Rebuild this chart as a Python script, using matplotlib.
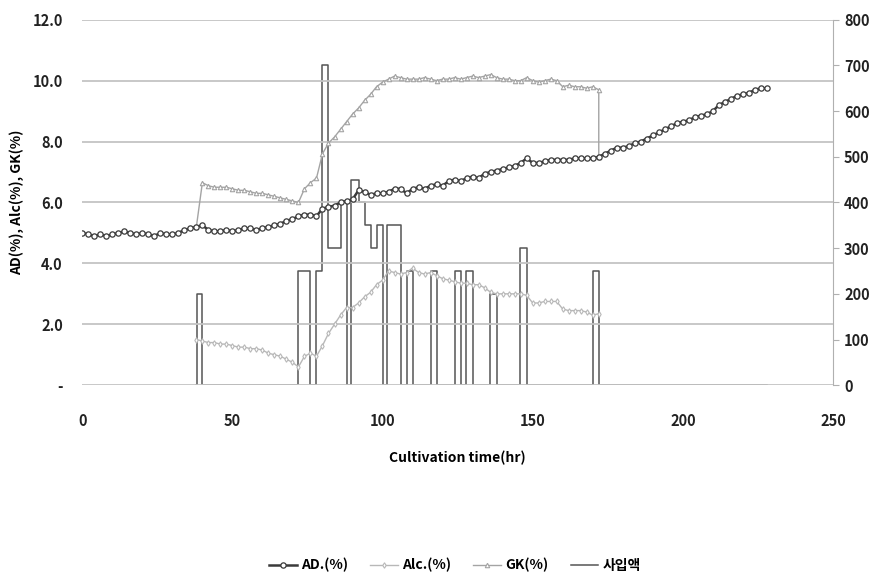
import numpy as np
import matplotlib
matplotlib.use("Agg")
import matplotlib.pyplot as plt

plt.rcParams["font.family"] = ["Noto Sans CJK KR", "DejaVu Sans"]

# AD (%) sampled every 2 hr, 0..228
ad_t = np.arange(0, 229, 2)
ad_v = [5.0, 4.95, 4.9, 4.95, 4.9, 4.95, 5.0, 5.05, 5.0, 4.95,
        5.0, 4.95, 4.9, 5.0, 4.95, 4.95, 5.0, 5.1, 5.15, 5.2,
        5.25, 5.1, 5.05, 5.05, 5.1, 5.05, 5.1, 5.15, 5.15, 5.1,
        5.15, 5.2, 5.25, 5.3, 5.4, 5.45, 5.55, 5.6, 5.6, 5.55,
        5.8, 5.85, 5.9, 6.0, 6.05, 6.1, 6.4, 6.35, 6.25, 6.3,
        6.3, 6.35, 6.45, 6.45, 6.3, 6.45, 6.5, 6.45, 6.55, 6.6,
        6.55, 6.7, 6.75, 6.7, 6.8, 6.85, 6.8, 6.95, 7.0, 7.05,
        7.1, 7.15, 7.2, 7.3, 7.45, 7.3, 7.3, 7.35, 7.4, 7.4,
        7.4, 7.4, 7.45, 7.45, 7.45, 7.45, 7.5, 7.6, 7.7, 7.8,
        7.8, 7.85, 7.95, 8.0, 8.1, 8.2, 8.3, 8.4, 8.5, 8.6,
        8.65, 8.7, 8.8, 8.85, 8.9, 9.0, 9.2, 9.3, 9.4, 9.5,
        9.55, 9.6, 9.7, 9.75, 9.75]

# Alc (%) every 2 hr, 38..172
alc_t = np.arange(38, 173, 2)
alc_v = [1.5, 1.45, 1.4, 1.4, 1.35, 1.35, 1.3, 1.25, 1.25, 1.2,
         1.2, 1.15, 1.05, 1.0, 0.95, 0.85, 0.75, 0.6, 0.95, 1.05,
         0.95, 1.3, 1.7, 2.0, 2.3, 2.55, 2.55, 2.7, 2.9, 3.05,
         3.3, 3.45, 3.75, 3.7, 3.65, 3.7, 3.85, 3.7, 3.65, 3.7,
         3.6, 3.5, 3.45, 3.4, 3.35, 3.35, 3.3, 3.3, 3.2, 3.05,
         3.0, 3.0, 3.0, 3.0, 3.0, 2.95, 2.7, 2.7, 2.75, 2.75,
         2.75, 2.5, 2.45, 2.45, 2.45, 2.4, 2.3, 2.35]

# GK (%) every 2 hr, 40..172, plus the joins at both ends
gk_t = [38] + list(np.arange(40, 173, 2)) + [172]
gk_v = [5.2,
        6.65, 6.55, 6.5, 6.5, 6.5, 6.45, 6.4, 6.4, 6.35, 6.3,
        6.3, 6.25, 6.2, 6.15, 6.1, 6.05, 6.0, 6.45, 6.65, 6.8,
        7.6, 7.95, 8.15, 8.4, 8.65, 8.9, 9.1, 9.35, 9.55, 9.8,
        9.95, 10.05, 10.15, 10.1, 10.05, 10.05, 10.05, 10.1, 10.05, 10.0,
        10.05, 10.05, 10.1, 10.05, 10.1, 10.15, 10.1, 10.15, 10.2, 10.1,
        10.05, 10.05, 10.0, 10.0, 10.1, 10.0, 9.95, 10.0, 10.05, 10.0,
        9.8, 9.85, 9.8, 9.8, 9.75, 9.8, 9.7,
        7.5]

# feed volume (right axis), step changes
feed_t = [38, 38.3, 40, 72, 76, 78, 80, 82, 86, 88, 89.5, 92, 94, 96, 98, 100,
          101.5, 106, 108, 110.3, 116, 118, 124, 126, 127.7, 130, 135.7, 138,
          145.8, 148, 170, 172, 228]
feed_v = [0, 200, 0, 250, 0, 250, 700, 300, 400, 0, 450, 400, 350, 300, 350, 0,
          350, 0, 250, 0, 250, 0, 250, 0, 250, 0, 200, 0,
          300, 0, 250, 0, 0]

fig = plt.figure(figsize=(8.75, 5.81), dpi=100)
ax = fig.add_axes([0.094, 0.337, 0.858, 0.629])
ax2 = ax.twinx()

ax.set_xlim(0, 250)
ax.set_ylim(0, 12)
ax2.set_ylim(0, 800)
ax.set_yticks(np.arange(0, 12.1, 2))
ax.set_yticklabels(["-", "2.0", "4.0", "6.0", "8.0", "10.0", "12.0"])
ax2.set_yticks(np.arange(0, 801, 100))
ax.set_xticks(np.arange(0, 251, 50))
ax.grid(axis="y", color="#c4c4c4", lw=1.3)
ax.set_axisbelow(True)
for s in ("left", "top", "bottom", "right"):
    ax.spines[s].set_visible(False)
for s in ("left", "top", "bottom"):
    ax2.spines[s].set_visible(False)
ax2.spines["right"].set_color("#b0b0b0")
ax.tick_params(axis="x", length=0, labelsize=10.5, pad=20)
ax.tick_params(axis="y", length=0, labelsize=10.5, pad=14)
ax2.tick_params(axis="y", length=4, color="#b0b0b0", labelsize=10.5, pad=4)
for lab in ax.get_xticklabels() + ax.get_yticklabels() + ax2.get_yticklabels():
    lab.set_fontweight("bold")
    lab.set_color("#222222")

l4, = ax2.plot(feed_t, feed_v, drawstyle="steps-post", color="#555555", lw=1.1, zorder=2)
ax.set_zorder(ax2.get_zorder() + 1)
ax.patch.set_visible(False)

l2, = ax.plot(alc_t, alc_v, color="#b8b8b8", lw=1.0, marker="d", ms=2.8,
              mfc="white", mec="#b8b8b8", mew=0.8)
l3, = ax.plot(gk_t, gk_v, color="#a4a4a4", lw=1.0, marker="^", ms=3.2,
              mfc="white", mec="#a4a4a4", mew=0.8)
l1, = ax.plot(ad_t, ad_v, color="#3a3a3a", lw=1.8, marker="o", ms=3.8,
              mfc="white", mec="#3a3a3a", mew=0.9)

ax.set_xlabel("Cultivation time(hr)", fontsize=10, fontweight="bold", labelpad=16)
ax.set_ylabel("AD(%), Alc(%), GK(%)", fontsize=10, fontweight="bold", labelpad=6)

fig.legend([l1, l2, l3, l4], ["AD.(%)", "Alc.(%)", "GK(%)", "사입액"],
           loc="center", bbox_to_anchor=(0.52, 0.027), ncol=4, frameon=False,
           prop={"weight": "bold", "size": 10}, handlelength=2.0,
           handletextpad=0.3, columnspacing=1.6)

fig.savefig("out.png", dpi=100)
